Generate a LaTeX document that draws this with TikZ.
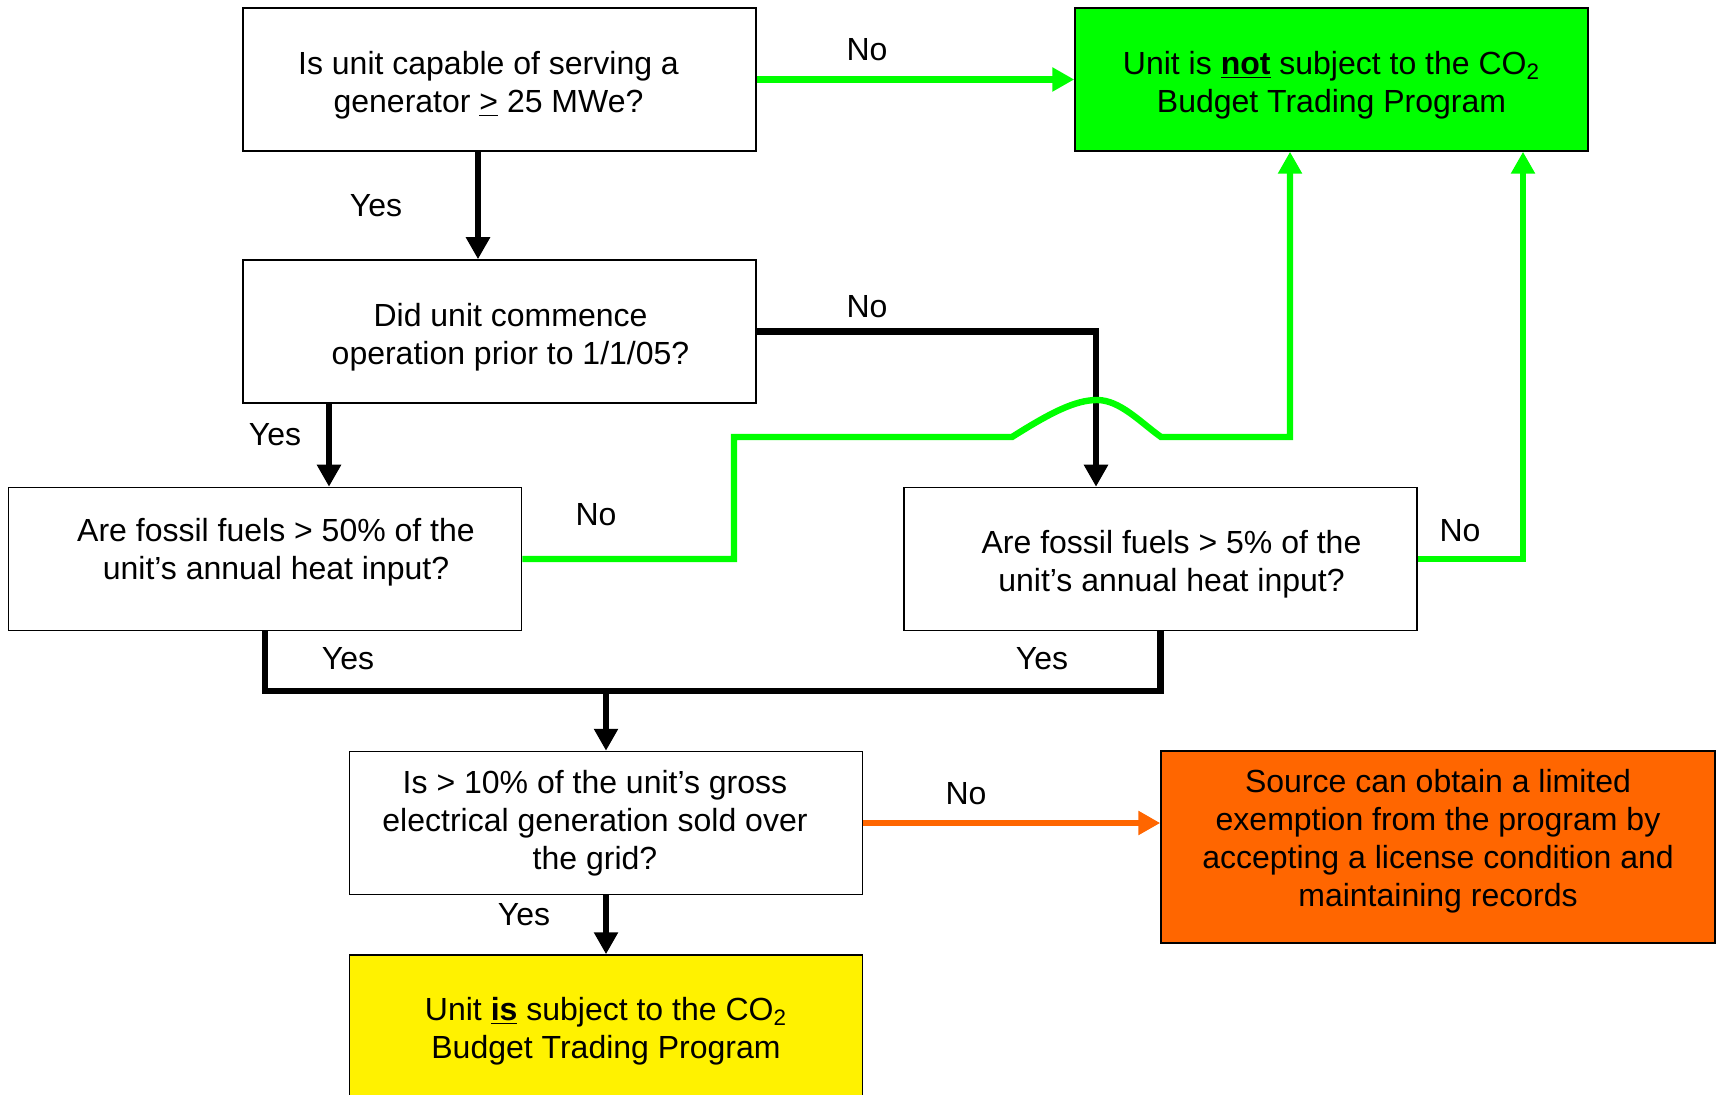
\documentclass[tikz,border=0pt]{standalone}
\usepackage{fontspec}
\setmainfont{Liberation Sans}
\usetikzlibrary{arrows.meta,calc}
\definecolor{brightgreen}{RGB}{0,255,0}
\definecolor{flame}{RGB}{255,102,0}
\tikzset {>={Triangle[length=11pt,width=11.5pt]}}
\tikzset{
  qbox/.style={draw,line width=0.75pt,minimum width=256.5pt,minimum height=71.5pt,inner sep=0pt},
  txt/.style={align=center,inner sep=0pt,font=\fontsize{16}{19}\selectfont},
  lbl/.style={font=\fontsize{16}{19}\selectfont},
  blk/.style={line width=3.2pt},
  grn/.style={line width=3.2pt,draw=brightgreen},
  org/.style={line width=3.2pt,draw=flame}
}

\begin{document}
\begin{tikzpicture}[x=0.5pt,y=-0.5pt]
\useasboundingbox (0,0) rectangle (1717,1095);
% question boxes
\node[qbox,label={[txt,xshift=-5.5pt,yshift=-2.75pt]center:{Is unit capable of serving a\\generator \underline{>} 25 MWe?}}] (q1) at (499.5,79.5) {};
\node[qbox,label={[txt,xshift=5.5pt,yshift=-2.75pt]center:{Did unit commence\\operation prior to 1/1/05?}}] (q2) at (499.5,331.5) {};
\node[qbox,label={[txt,xshift=5.5pt,yshift=3.3pt]center:{Are fossil fuels > 50\% of the\\unit’s annual heat input?}}] (q3) at (265,559) {};
\node[qbox,label={[txt,xshift=5.5pt,yshift=-2.75pt]center:{Are fossil fuels > 5\% of the\\unit’s annual heat input?}}] (q4) at (1160.5,559) {};
\node[qbox,label={[txt,xshift=-5.5pt]center:{Is > 10\% of the unit’s gross\\electrical generation sold over\\the grid?}}] (q5) at (606,823) {};
% outcome boxes
\node[qbox,fill=brightgreen,label={[txt,yshift=-2.75pt]center:{Unit is \textbf{\underline{not}} subject to the CO\textsubscript{2}\\Budget Trading Program}}] (notbox) at (1331.5,79.5) {};
\node[qbox,fill=yellow,minimum height=74pt,label={[txt,yshift=-1pt]center:{Unit \textbf{\underline{is}} subject to the CO\textsubscript{2}\\Budget Trading Program}}] (isbox) at (606,1029) {};
\node[qbox,fill=flame,minimum width=277pt,minimum height=96pt,label={[txt,yshift=2.75pt]center:{Source can obtain a limited\\exemption from the program by\\accepting a license condition and\\maintaining records}}] (exempt) at (1438,847) {};
% helper points
\coordinate (merge) at (606,691);
\coordinate (bendL) at (734,437);
\coordinate (hopL) at (1012,437);
\coordinate (hopT) at (1097,400);
\coordinate (hopR) at (1161,437);
% connectors
\draw[grn,->] (q1) -- (notbox);
\draw[blk,->] ([xshift=-10.75pt]q1.south) -- ([xshift=-10.75pt]q2.north);
\draw[blk,->] (q2.east) -| ([xshift=-32.25pt]q4.north);
\draw[blk,->] ([xshift=-85.25pt]q2.south) -- ([xshift=-85.25pt]q2.south |- q3.north);
\draw[grn,->] (q3.east) -| (bendL) -- (hopL) .. controls (1050,413) and (1075,400) .. (hopT)
  .. controls (1120,400) and (1140,422) .. (hopR) -| ([xshift=-20.75pt]notbox.south);
\draw[grn,->] (q4.east) -| ([xshift=95.75pt]notbox.south);
\draw[blk] (q3.south) |- (merge) -| (q4.south);
\draw[blk,->] (merge) -- (q5.north);
\draw[org,->] (q5.east) -- (q5.east -| exempt.west);
\draw[blk,->] (q5.south) -- (isbox.north);
% branch labels
\node[lbl] (no1) at (867,50) {No};
\node[lbl] (yes1) at (376,206) {Yes};
\node[lbl] (no2) at (867,307) {No};
\node[lbl] (yes2) at (275,435) {Yes};
\node[lbl] (no3) at (596,515) {No};
\node[lbl] (no4) at (1460,531) {No};
\node[lbl] (yes3) at (348,659) {Yes};
\node[lbl] (yes4) at (1042,659) {Yes};
\node[lbl] (no5) at (966,794) {No};
\node[lbl] (yes5) at (524,915) {Yes};
\end{tikzpicture}
\end{document}
